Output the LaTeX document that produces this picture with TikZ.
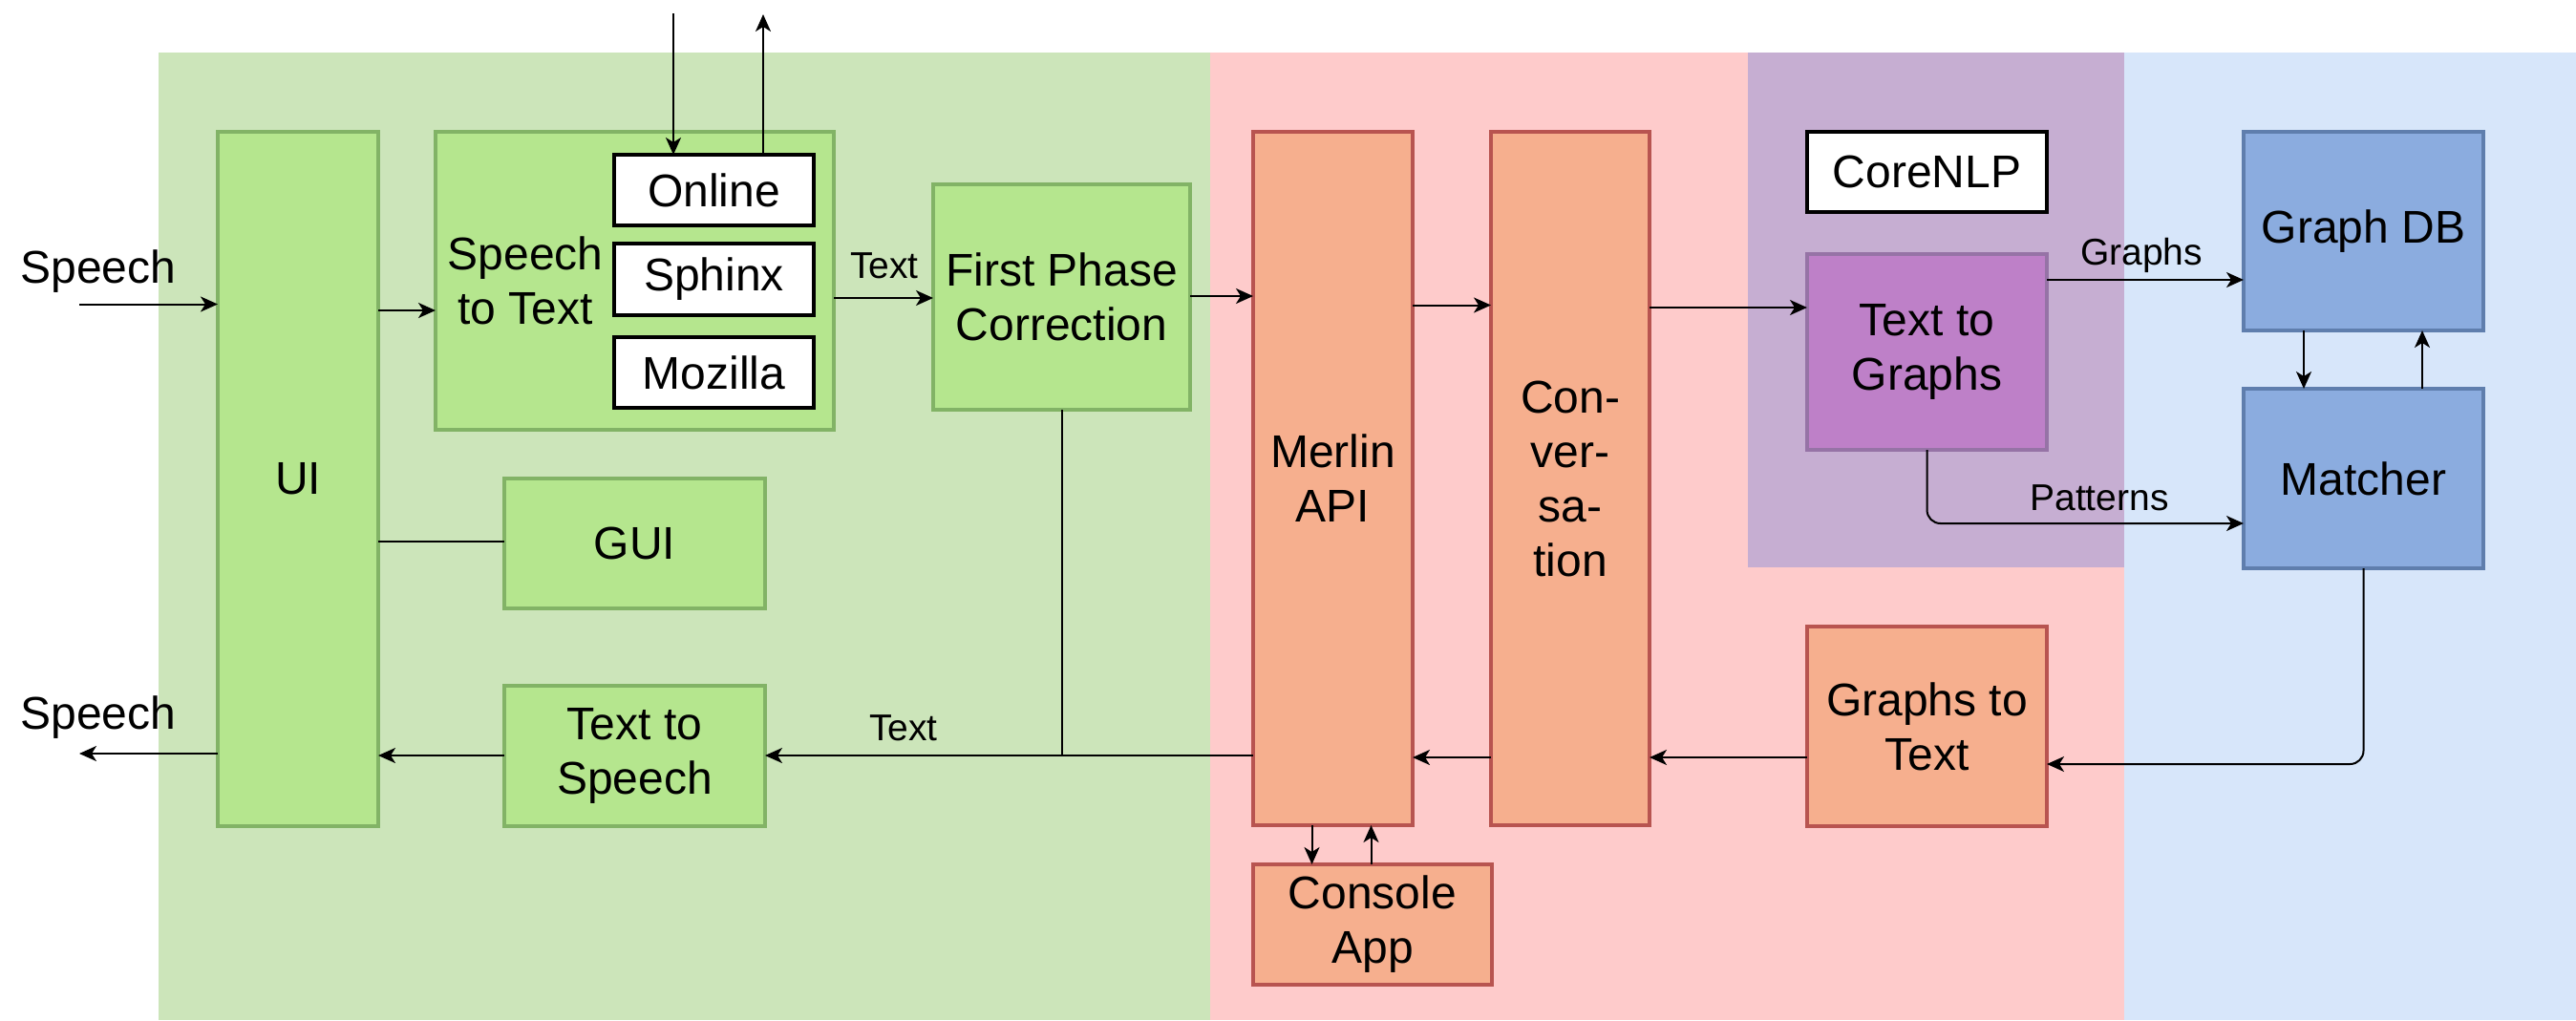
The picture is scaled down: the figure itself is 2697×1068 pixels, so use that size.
\documentclass[tikz,border=0pt]{standalone}
\usepackage{fontspec}
\setmainfont{Liberation Sans}
\usetikzlibrary{arrows.meta}

% palette
\definecolor{greenbg}{HTML}{CCE5BA}
\definecolor{greenfill}{HTML}{B5E68E}
\definecolor{greenline}{HTML}{82B366}
\definecolor{redbg}{HTML}{FECBCB}
\definecolor{orangefill}{HTML}{F6AF8E}
\definecolor{orangeline}{HTML}{B85450}
\definecolor{purplebg}{HTML}{C6AED2}
\definecolor{purplefill}{HTML}{BE80C8}
\definecolor{purpleline}{HTML}{9673A6}
\definecolor{bluebg}{HTML}{D7E6FA}
\definecolor{bluefill}{HTML}{8BACDF}
\definecolor{blueline}{HTML}{5F7EAD}

\newcommand\boxfnt{\fontsize{48}{57}\selectfont}
\newcommand\lblfnt{\fontsize{39}{45}\selectfont}

\tikzset{
  blk/.style={line width=3.5pt, inner sep=0pt, outer sep=0pt, align=center, font=\boxfnt},
  gbox/.style={blk, draw=greenline, fill=greenfill},
  obox/.style={blk, draw=orangeline, fill=orangefill},
  pbox/.style={blk, draw=purpleline, fill=purplefill},
  bbox/.style={blk, draw=blueline, fill=bluefill},
  wbox/.style={blk, line width=4pt, draw=black, fill=white},
  lbl/.style={font=\lblfnt, inner sep=0pt, anchor=base},
  conn/.style={line width=2pt, draw=black},
  arr/.style={conn, -{Stealth[length=18pt, width=16pt, inset=5pt]}},
}

\begin{document}
\begin{tikzpicture}[x=1pt, y=-1pt]
\useasboundingbox (0,0) rectangle (2697,1068);
\fill[white] (0,0) rectangle (2697,1068);

% layer backgrounds
\fill[greenbg] (166,55) rectangle (1267,1068);
\fill[redbg] (1267,55) rectangle (2224,1068);
\fill[bluebg] (2224,55) rectangle (2697,1068);
\fill[purplebg] (1830,55) rectangle (2224,594);

% user interface layer
\node[gbox, minimum width=168, minimum height=727] (ui) at (312,501.5) {UI};
\node[gbox, minimum width=417, minimum height=312] (stt) at (664.5,294) {};
\node[font=\boxfnt, align=center, inner sep=0pt] (sttlbl) at (550,294) {Speech\\to Text};
\node[wbox, minimum width=209, minimum height=74] (online) at (747.5,199) {Online};
\node[wbox, minimum width=209, minimum height=75] (sphinx) at (747.5,292.5) {Sphinx};
\node[wbox, minimum width=209, minimum height=74] (mozilla) at (747.5,390) {Mozilla};
\node[gbox, minimum width=269, minimum height=236] (fpc) at (1111.5,311) {First Phase\\Correction};
\node[gbox, minimum width=273, minimum height=136] (gui) at (664.5,569) {GUI};
\node[gbox, minimum width=273, minimum height=147] (tts) at (664.5,791.5) {Text to\\Speech};

% core layer
\node[obox, minimum width=167, minimum height=726] (merlin) at (1395.5,501) {Merlin\\API};
\node[obox, minimum width=166, minimum height=726] (conv) at (1644,501) {Con-\\ver-\\sa-\\tion};
\node[obox, minimum width=250, minimum height=126] (console) at (1437,968) {Console\\App};
\node[obox, minimum width=251, minimum height=209] (gtt) at (2017.5,760.5) {Graphs to\\Text};

% language layer
\node[wbox, minimum width=251, minimum height=84] (corenlp) at (2017.5,180) {CoreNLP};
\node[pbox, minimum width=251, minimum height=205] (ttg) at (2017.5,368.5) {Text to\\Graphs};

% knowledge layer
\node[bbox, minimum width=251, minimum height=208] (graphdb) at (2474.5,242) {Graph DB};
\node[bbox, minimum width=251, minimum height=188] (matcher) at (2474.5,501) {Matcher};

% free ends and junctions
\coordinate (spin) at (83,318.5);
\coordinate (spout) at (83,789);
\coordinate (cloudin) at (705,14);
\coordinate (cloudout) at (799,15);
\coordinate (join) at (1111.5,791);

\node[font=\boxfnt, inner sep=0pt, anchor=base] (speechin) at (103,296) {Speech};
\node[font=\boxfnt, inner sep=0pt, anchor=base] (speechout) at (103,763) {Speech};

% connectors
\draw[arr] (spin) -- (ui.west |- spin);
\draw[arr] (ui.east |- 0,325) -- (stt.west |- 0,325);
\draw[arr] (cloudin) -- (online.north -| cloudin);
\draw[arr] (online.north -| cloudout) -- (cloudout);
\draw[arr] (stt.east |- 0,312) -- (fpc.west |- 0,312);
\node[lbl] (lbltext1) at (926,291) {Text};
\draw[arr] (fpc.east |- 0,310) -- (merlin.west |- 0,310);
\draw[arr] (merlin.east |- 0,319.5) -- (conv.west |- 0,319.5);
\draw[arr] (conv.east |- 0,322) -- (ttg.west |- 0,322);
\draw[arr] (ttg.east |- 0,293) -- (graphdb.west |- 0,293);
\node[lbl] (lblgraphs) at (2242,277) {Graphs};
\draw[arr] (graphdb.south -| 2412,0) -- (matcher.north -| 2412,0);
\draw[arr] (matcher.north -| 2536,0) -- (graphdb.south -| 2536,0);
\draw[arr, rounded corners=14pt] (ttg.south) |- (matcher.west |- 0,548);
\node[lbl] (lblpatterns) at (2198,534) {Patterns};
\draw[arr, rounded corners=14pt] (matcher.south) |- (gtt.east |- 0,800);
\draw[arr] (gtt.west |- 0,793) -- (conv.east |- 0,793);
\draw[arr] (conv.west |- 0,793) -- (merlin.east |- 0,793);
\draw[conn] (fpc.south) -- (join);
\draw[arr] (merlin.west |- join) -- (tts.east |- join);
\node[lbl] (lbltext2) at (946,775) {Text};
\draw[arr] (tts.west |- join) -- (ui.east |- join);
\draw[arr] (ui.west |- spout) -- (spout);
\draw[conn] (ui.east |- 0,567) -- (gui.west |- 0,567);
\draw[arr] (merlin.south -| 1373.5,0) -- (console.north -| 1373.5,0);
\draw[arr] (console.north -| 1435.5,0) -- (merlin.south -| 1435.5,0);
\end{tikzpicture}
\end{document}
